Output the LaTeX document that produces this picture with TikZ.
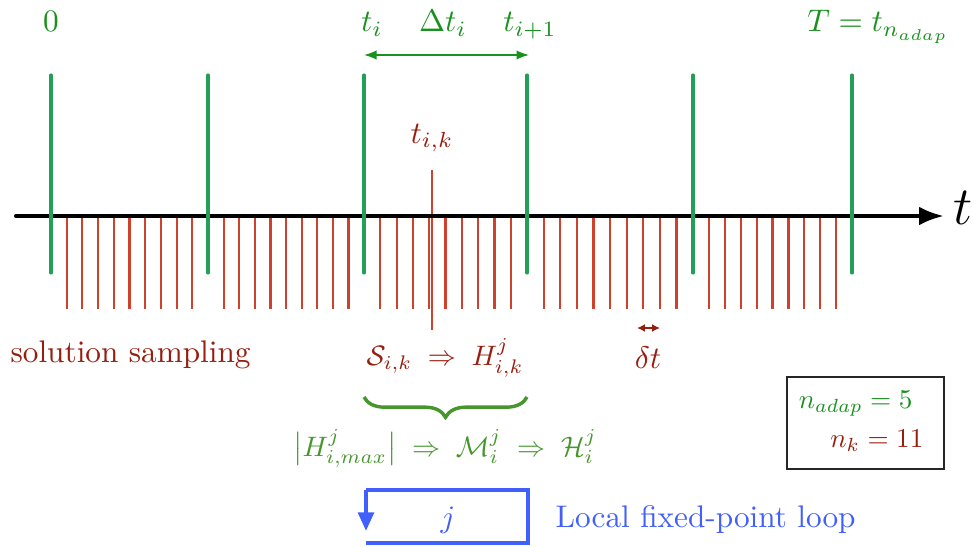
\documentclass[tikz,border=0pt]{standalone}
\usetikzlibrary{arrows.meta,decorations.pathreplacing}
\definecolor{gtick}{RGB}{35,160,85}
\definecolor{gtext}{RGB}{25,145,30}
\definecolor{gform}{RGB}{70,150,45}
\definecolor{rtick}{RGB}{205,65,45}
\definecolor{rtext}{RGB}{150,30,15}
\definecolor{bloop}{RGB}{65,95,250}
\begin{document}
\begin{tikzpicture}[x=0.32pt,y=-0.32pt,
  gticksty/.style={draw=gtick,line width=1pt,line cap=round},
  rticksty/.style={draw=rtick,line width=0.7pt},
  axissty/.style={draw=black,line width=1.3pt,line cap=round,-{Latex[length=8pt,width=6pt]}},
  gt/.style={text=gtext,anchor=base,inner sep=0pt},
  rt/.style={text=rtext,anchor=base,inner sep=0pt},
  ft/.style={text=gform,anchor=base,inner sep=0pt},
  bt/.style={text=bloop,anchor=base,inner sep=0pt},
  loopsty/.style={draw=bloop,line width=1.3pt}]
\useasboundingbox (0,0) rectangle (973,546);
% red sampling ticks
\foreach \a/\b in {51/208,208/364,364/527,527/693,693/852}{
  \foreach \k in {1,...,9}{
    \draw[rticksty] ({\a+\k*(\b-\a)/10},216) -- ++(0,93);
  }
}
% thin line t_{i,k}
\coordinate (tk1) at (432,170);
\coordinate (tk2) at (432,330);
\draw[draw=rtick,line width=0.35pt] (tk1) -- (tk2);
% axis
\coordinate (ax0) at (16,216);
\coordinate (ax1) at (944,216);
\draw[axissty] (ax0) -- (ax1);
\node[anchor=base west,inner sep=0pt,font=\fontsize{16}{18}\selectfont] (tlab) at (953,224) {$t$};
% green ticks
\foreach \x [count=\i] in {51,208,364,527,693,852}{
  \coordinate (gtop\i) at (\x,75);
  \coordinate (gbot\i) at (\x,273);
  \draw[gticksty] (gtop\i) -- (gbot\i);
}
% top labels
\node[gt] (l0) at (51,32) {$0$};
\node[gt] (lti) at (372,32) {$t_i$};
\node[gt] (ldt) at (443,32) {$\Delta t_i$};
\node[gt] (lti1) at (530,32) {$t_{i+1}$};
\node[gt] (lT) at (878,32) {$T = t_{n_{adap}}$};
\coordinate (da) at (364,55);
\coordinate (db) at (529,55);
\draw[draw=gtext,line width=0.5pt,{Latex[length=4pt,width=3pt]}-{Latex[length=4pt,width=3pt]}] (da) -- (db);
% t_{i,k}
\node[rt] (ltik) at (432,143) {$t_{i,k}$};
% solution sampling
\node[rt,anchor=base west] (sol) at (10,362) {solution sampling};
\node[rt,scale=0.9] (shk) at (445,365) {$\mathcal{S}_{i,k}\;\Rightarrow\;H^j_{i,k}$};
% delta t
\coordinate (dta) at (637,328);
\coordinate (dtb) at (660,328);
\draw[draw=rtext,line width=0.5pt,{Latex[length=2.5pt,width=2.5pt]}-{Latex[length=2.5pt,width=2.5pt]}] (dta) -- (dtb);
\node[rt] (ldelt) at (648,368) {$\delta t$};
% brace
\coordinate (bra) at (364,397);
\coordinate (brb) at (527,397);
\draw[draw=gform,line width=1.1pt,decorate,decoration={brace,mirror,amplitude=6.5pt}] (bra) -- (brb);
\node[ft,scale=0.9] (form) at (445,456) {$\bigl|H^j_{i,max}\bigr|\;\Rightarrow\;\mathcal{M}^j_i\;\Rightarrow\;\mathcal{H}^j_i$};
% parameter box
\coordinate (bx1) at (787,377);
\coordinate (bx2) at (944,469);
\draw[line width=0.45pt,draw=black!85] (bx1) rectangle (bx2);
\node[gt,anchor=base east,scale=0.87] (nad) at (913,408) {$n_{adap} = 5$};
\node[rt,anchor=base east,scale=0.87] (nk) at (924,447) {$n_k = 11$};
% loop
\coordinate (lp1) at (366,543);
\coordinate (lp2) at (528,543);
\coordinate (lp3) at (528,490);
\coordinate (lp4) at (366,490);
\coordinate (lp5) at (366,531);
\draw[loopsty] (lp1) -- (lp2) -- (lp3) -- (lp4);
\draw[loopsty,-{Triangle[length=6pt,width=5pt]}] (lp4) -- (lp5);
\node[bt] (lj) at (448,527) {$j$};
\node[bt,anchor=base west] (lfp) at (555,527) {Local fixed-point loop};
\end{tikzpicture}
\end{document}
